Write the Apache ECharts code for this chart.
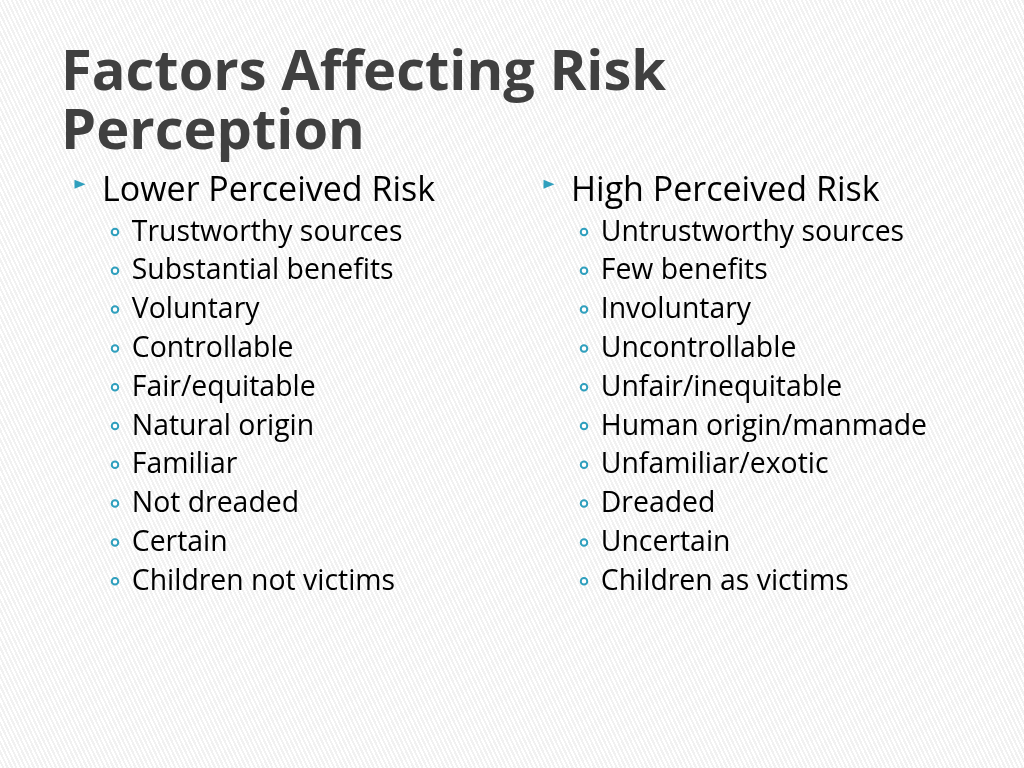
<!DOCTYPE html>
<html>
<head>
<meta charset="utf-8">
<script src="https://cdn.jsdelivr.net/npm/echarts@6/dist/echarts.min.js"></script>
<style>
html,body{margin:0;padding:0;width:1024px;height:768px;overflow:hidden;
background-color:#fbfbfb;
background-image:repeating-linear-gradient(65deg,#ffffff 0px,#ffffff 2px,#f1f1f1 2px,#f1f1f1 4px);}
#chart{width:1024px;height:768px;}
</style>
</head>
<body>
<div id="chart"></div>
<script>
var titleText = "Factors Affecting Risk\nPerception";
var columns = ["Lower Perceived Risk", "High Perceived Risk"];
var lowerItems = ["Trustworthy sources","Substantial benefits","Voluntary","Controllable","Fair/equitable","Natural origin","Familiar","Not dreaded","Certain","Children not victims"];
var highItems = ["Untrustworthy sources","Few benefits","Involuntary","Uncontrollable","Unfair/inequitable","Human origin/manmade","Unfamiliar/exotic","Dreaded","Uncertain","Children as victims"];

var FONT = "'Open Sans', 'Noto Sans', sans-serif";
var TEAL = "#2f9fbd";

var headData = columns.map(function(c, i){ return {name: c, value: [i, 0]}; });
var itemData = [];
[lowerItems, highItems].forEach(function(list, col){
  list.forEach(function(t, r){ itemData.push({name: t, value: [col, r + 1]}); });
});

var chart = echarts.init(document.getElementById('chart'), null, {renderer: 'canvas'});
chart.setOption({
  backgroundColor: 'transparent',
  animation: false,
  title: {
    text: titleText, left: 61, top: 44, padding: 0,
    textStyle: {fontFamily: FONT, fontSize: 56, fontWeight: 'bold', color: '#404040', lineHeight: 59.5}
  },
  grid: {left: 115, right: 440, top: 193.2, height: 388, containLabel: false},
  xAxis: {type: 'category', data: [0, 1], boundaryGap: false, show: false},
  yAxis: {type: 'value', inverse: true, min: 0, max: 10, show: false},
  series: [
    {
      type: 'scatter', data: headData, symbol: 'triangle', symbolRotate: -90,
      symbolSize: [9, 11], symbolOffset: [-35, -9], itemStyle: {color: TEAL, opacity: 1}, silent: true
    },
    {
      type: 'scatter', data: headData, symbolSize: 0, silent: true, itemStyle: {opacity: 1},
      label: {show: true, position: 'right', distance: 0, offset: [-13, -2], formatter: '{b}',
        fontFamily: FONT, fontSize: 34, color: '#000000', align: 'left', verticalAlign: 'middle'}
    },
    {
      type: 'scatter', data: itemData, symbol: 'emptyCircle', symbolSize: 6.5, silent: true,
      itemStyle: {color: TEAL, borderColor: '#6ab9d0', borderWidth: 1, opacity: 1},
      label: {show: true, position: 'right', distance: 12.5, offset: [0, 0.5], formatter: '{b}',
        fontFamily: FONT, fontSize: 28.4, color: '#000000', align: 'left', verticalAlign: 'middle'}
    }
  ]
});
</script>
</body>
</html>
